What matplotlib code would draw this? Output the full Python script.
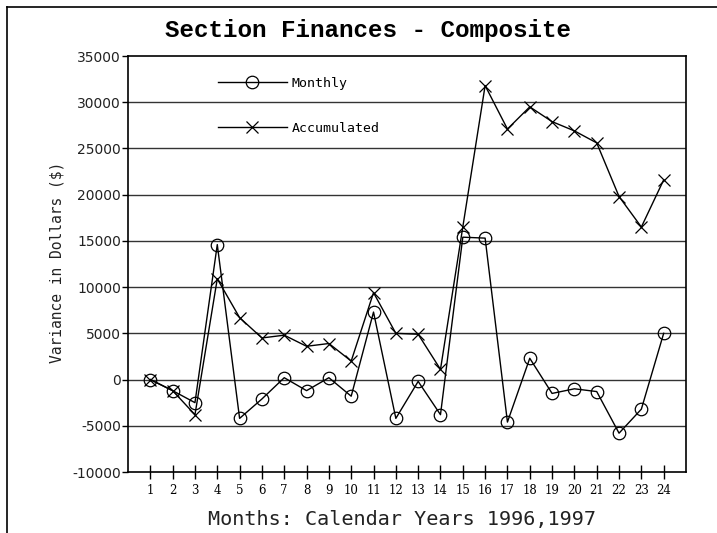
import matplotlib
matplotlib.use("Agg")
import matplotlib.pyplot as plt
from matplotlib.lines import Line2D

months = list(range(1, 25))
monthly = [0, -1200, -2500, 14600, -4200, -2100, 200, -1200, 200, -1800,
           7300, -4200, -200, -3800, 15400, 15300, -4600, 2300, -1500, -1000,
           -1300, -5800, -3200, 5000]
accumulated = [0, -1200, -3800, 10900, 6700, 4500, 4800, 3600, 3900, 2000,
               9400, 5000, 4900, 1100, 16500, 31800, 27100, 29500, 27900, 26900,
               25600, 19800, 16500, 21600]
yticks = list(range(-10000, 35001, 5000))

title = "Section Finances - Composite"
xlabel = "Months: Calendar Years 1996,1997"
ylabel = "Variance in Dollars ($)"

W, H = 717, 533
fig = plt.figure(figsize=(W / 100, H / 100), dpi=100)
ax = fig.add_axes([128 / W, 1 - 472 / H, (686 - 128) / W, (472 - 56) / H])

for y in yticks[1:-1]:
    ax.axhline(y, color="#333333", lw=1.0, zorder=1)

ax.plot(months, monthly, color="black", lw=1.0, marker="o", ms=9,
        mfc="none", mec="black", mew=0.9, label="Monthly", zorder=3)
ax.plot(months, accumulated, color="black", lw=1.0, marker="x", ms=9,
        mec="black", mew=0.9, label="Accumulated", zorder=3)

ax.set_xlim(0, 25)
ax.set_ylim(-10000, 35000)
ax.set_yticks(yticks)
ax.set_yticklabels([str(v) for v in yticks], fontsize=10, family="DejaVu Sans",
                   color="#222222")
ax.set_xticks(months)
ax.set_xticklabels([str(m) for m in months], fontsize=8.5, family="DejaVu Serif")
ax.tick_params(axis="y", direction="out", length=4, width=1, pad=1)
ax.tick_params(axis="x", direction="inout", length=10, width=1, pad=4)
for s in ax.spines.values():
    s.set_linewidth(1.2)
    s.set_color("black")

leg = ax.legend(loc="upper left", bbox_to_anchor=(0.14, 0.978), frameon=False,
                handlelength=5.2, handletextpad=0.4, labelspacing=2.4,
                prop={"family": "DejaVu Sans Mono", "size": 9.5})

fig.text(368 / W, 1 - 30 / H, title, ha="center", va="center",
         fontsize=17.5, family="Liberation Mono", fontweight="bold")
fig.text(402 / W, 1 - 519 / H, xlabel, ha="center", va="center",
         fontsize=14.5, family="DejaVu Sans Mono", color="#222222")
fig.text(57 / W, 1 - 262 / H, ylabel, ha="center", va="center", rotation=90,
         fontsize=10.5, family="DejaVu Sans Mono", color="#222222")

fig.add_artist(Line2D([7 / W, 7 / W], [0, 1 - 7 / H], color="black", lw=1.2,
                      transform=fig.transFigure))
fig.add_artist(Line2D([7 / W, 1], [1 - 7 / H, 1 - 7 / H], color="black", lw=1.2,
                      transform=fig.transFigure))

fig.savefig("out.png", dpi=100)
